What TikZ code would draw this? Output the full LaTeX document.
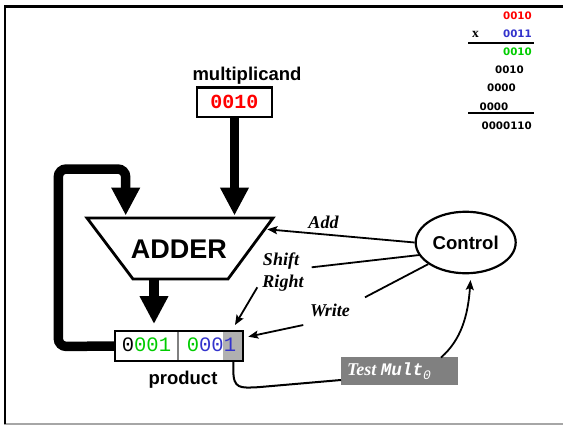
\documentclass[tikz,border=0pt]{standalone}
\usepackage{fontspec}
\setmainfont{Liberation Sans}
\newfontfamily\serifbi{Liberation Serif}
\newfontfamily\monoL{Liberation Mono}
\newfontfamily\dvs{DejaVu Sans}
\usetikzlibrary{arrows.meta,shapes.geometric}
\definecolor{myred}{RGB}{255,0,0}
\definecolor{mygreen}{RGB}{0,204,0}
\definecolor{myblue}{RGB}{51,51,204}
\definecolor{cellgray}{RGB}{176,176,176}
\definecolor{boxgray}{RGB}{128,128,128}
\tikzset{
  bigarrow/.style={line width=9.5pt,-{Triangle[width=27pt,length=28pt]}},
  thinarrow/.style={line width=1.8pt,-{Stealth[length=10pt,width=8pt,inset=2pt]}},
  ctrlline/.style={line width=1.8pt},
  lbl/.style={font=\fontsize{18.5}{20}\selectfont\bfseries,inner sep=0},
  sig/.style={font=\serifbi\fontsize{18}{20}\selectfont\bfseries\itshape,inner sep=0},
  nums/.style={font=\dvs\bfseries\fontsize{10.3}{10.3}\selectfont,inner sep=0,anchor=base east},
  proddigits/.style={font=\monoL\fontsize{20.5}{20.5}\selectfont,inner sep=0},
}
\begin{document}
\begin{tikzpicture}[x=1pt,y=-1pt]
\useasboundingbox (0,0) rectangle (563,426);
% frame
\draw[gray!70,line width=1.5pt] (4,424) -- (563,424);
\draw[line width=2.4pt] (5,424) -- (5,6.5) -- (563,6.5);

% multiplication example
\node[nums,text=myred] (n1) at (532,19) {0010};
\node[font=\serifbi\bfseries\fontsize{13.5}{13.5}\selectfont,inner sep=0,anchor=base] (nx) at (475.5,37.3) {x};
\node[nums,text=myblue] (n2) at (532,37) {0011};
\draw[line width=1.8pt] (468,43) -- (534,43);
\node[nums,text=mygreen] (n3) at (532,55.3) {0010};
\node[nums] (n4) at (524,73.3) {0010};
\node[nums] (n5) at (516,91.7) {0000};
\node[nums] (n6) at (508.5,110) {0000};
\draw[line width=1.8pt] (468,113) -- (534,113);
\node[nums] (n7) at (532,129) {0000110};

% multiplicand
\node[lbl,anchor=base] (mlabel) at (247,80.7) {multiplicand};
\node[draw,line width=2.5pt,minimum width=75pt,minimum height=29.5pt,inner sep=0,
      font=\monoL\bfseries\fontsize{20}{20}\selectfont,text=myred] (mbox) at (234.5,102) {0010};

% adder
\draw[line width=2.8pt,line join=miter] (87,218) -- (273,218) -- (228,279) -- (133,279) -- cycle;
\node[font=\fontsize{27}{27}\selectfont\bfseries,inner sep=0] (adder) at (179,249.7) {ADDER};
\coordinate (addInL) at (125.7,215.5);
\coordinate (addInR) at (234.5,215.5);
\coordinate (addBot) at (154,278);
\coordinate (addEnd) at (267.3,229.3);

% product register
\fill[cellgray] (223,331) rectangle (243,361);
\node[minimum width=128pt,minimum height=30pt,inner sep=0] (prod) at (179,346) {};
\draw[boxgray,line width=1.8pt] (178,331) -- (178,361);
\node[proddigits] (p1) at (146.5,345) {\textcolor{black}{0}\textcolor{mygreen}{001}};
\node[proddigits] (p2) at (211.5,345) {\textcolor{mygreen}{0}\textcolor{myblue}{001}};
\draw[line width=2.5pt] (prod.north west) rectangle (prod.south east);
\node[lbl,anchor=base] (plabel) at (183,384) {product};
\coordinate (prodIn) at (154,324);

% big data-path arrows
\draw[bigarrow] (mbox.south) -- (addInR);
\draw[bigarrow] (addBot) -- (prodIn);
\draw[bigarrow,rounded corners=8pt] (prod.west) -- (58.3,346.5) -- (58.3,169) -- (125.7,169) -- (addInL);

% control
\node[draw,ellipse,line width=2.2pt,minimum width=100pt,minimum height=61.5pt,inner sep=0,
      font=\bfseries\fontsize{18.6}{20}\selectfont] (ctrl) at (465.7,242.5) {Control};

% Add
\draw[thinarrow] (ctrl.west) -- (addEnd);
\node[sig,anchor=base] (addlbl) at (323.5,228) {Add};

% Shift Right
\coordinate (srA) at (311.7,267.3);
\coordinate (srB) at (257.3,287.3);
\coordinate (srTip) at (235,325);
\draw[ctrlline] (ctrl.195) -- (srA);
\node[sig,anchor=base] (shiftlbl) at (281,265) {Shift};
\node[sig,anchor=base] (rightlbl) at (283,287) {Right};
\draw[thinarrow] (srB) -- (srTip);

% Write
\coordinate (wA) at (365,297.3);
\coordinate (wB) at (303.3,325);
\coordinate (wTip) at (248.3,336.7);
\draw[ctrlline] (ctrl.210) -- (wA);
\node[sig,anchor=base] (wlbl) at (330,316.7) {Write};
\draw[thinarrow] (wB) -- (wTip);

% Test Mult0
\node[fill=boxgray,minimum width=117pt,minimum height=28pt,inner sep=0,text width=105pt,align=left,text=white] (test) at (399.5,371)
  {{\serifbi\bfseries\itshape\fontsize{18}{20}\selectfont Test}\hspace{4.5pt}{\monoL\bfseries\itshape\fontsize{17.6}{20}\selectfont Mult}\raisebox{-4pt}{\monoL\itshape\fontsize{13}{13}\selectfont 0}};
\coordinate (cA) at (233.3,361);
\coordinate (cB) at (341,380);
\coordinate (cC) at (441,357.5);
\coordinate (ctrlIn) at (470.5,280);
\draw[line width=2pt] (cA) -- (233.3,370) .. controls (233.3,389) and (240,388) .. (258,387.2) -- (cB);
\draw[thinarrow] (cC) .. controls (461,340) and (468,316) .. (ctrlIn);
\end{tikzpicture}
\end{document}
